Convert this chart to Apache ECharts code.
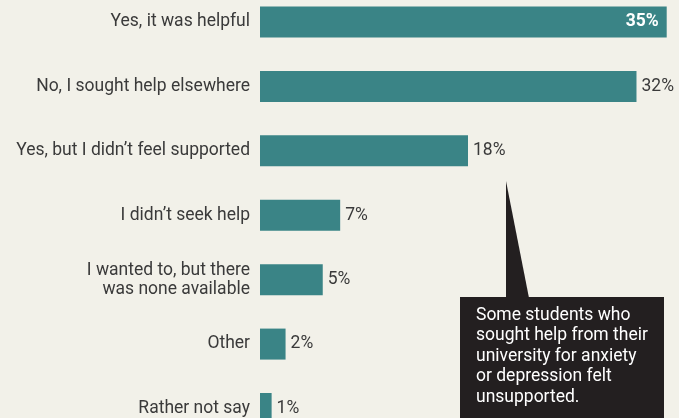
<!DOCTYPE html>
<html>
<head>
<meta charset="utf-8">
<script src="https://cdn.jsdelivr.net/npm/echarts@6/dist/echarts.min.js"></script>
<style>
  html, body { margin: 0; padding: 0; background: #f2f1e9; }
  #chart { width: 679px; height: 418px; }
</style>
</head>
<body>
<div id="chart"></div>
<script>
const categories = [
  "Yes, it was helpful",
  "No, I sought help elsewhere",
  "Yes, but I didn\u2019t feel supported",
  "I didn\u2019t seek help",
  "I wanted to, but there\nwas none available",
  "Other",
  "Rather not say",
];
// share of respondents (%)
const shares = [35, 32.4, 17.9, 6.9, 5.4, 2.2, 1.0];

const note = "Some students who\nsought help from their\nuniversity for anxiety\nor depression felt\nunsupported.";

const chart = echarts.init(document.getElementById("chart"));

const teal = "#3a8486";
const ink = "#3a3a3a";
const font = "Roboto";

const data = shares.map((v, i) => ({
  value: v,
  label: i === 0
    ? { position: "insideRight", color: "#fff", fontWeight: "bold", distance: 8 }
    : {},
}));

chart.setOption({
  backgroundColor: "#f2f1e9",
  animation: false,
  grid: { left: 260, top: 22, width: 406.7, height: 387 },
  xAxis: {
    type: "value",
    min: 0,
    max: 35,
    show: false,
  },
  yAxis: {
    type: "category",
    inverse: true,
    boundaryGap: false,
    data: categories,
    axisLine: { show: false },
    axisTick: { show: false },
    splitLine: { show: false },
    axisLabel: {
      margin: 10,
      color: ink,
      fontFamily: font,
      fontSize: 17.5,
      lineHeight: 19,
    },
  },
  series: [
    {
      type: "bar",
      data: data,
      barWidth: 31,
      itemStyle: { color: teal },
      label: {
        show: true,
        position: "right",
        distance: 5,
        color: ink,
        fontFamily: font,
        fontSize: 17.5,
        formatter: (p) => Math.round(p.value) + "%",
      },
    },
  ],
  graphic: [
    {
      type: "polygon",
      shape: { points: [[506, 181], [506, 298], [529, 298]] },
      style: { fill: "#231f20" },
    },
    {
      type: "rect",
      shape: { x: 460, y: 297, width: 204, height: 130 },
      style: { fill: "#231f20" },
    },
    {
      type: "text",
      left: 476,
      top: 305,
      style: {
        text: note,
        fill: "#ffffff",
        fontFamily: font,
        fontSize: 17.5,
        lineHeight: 20.5,
      },
    },
  ],
});
</script>
</body>
</html>
